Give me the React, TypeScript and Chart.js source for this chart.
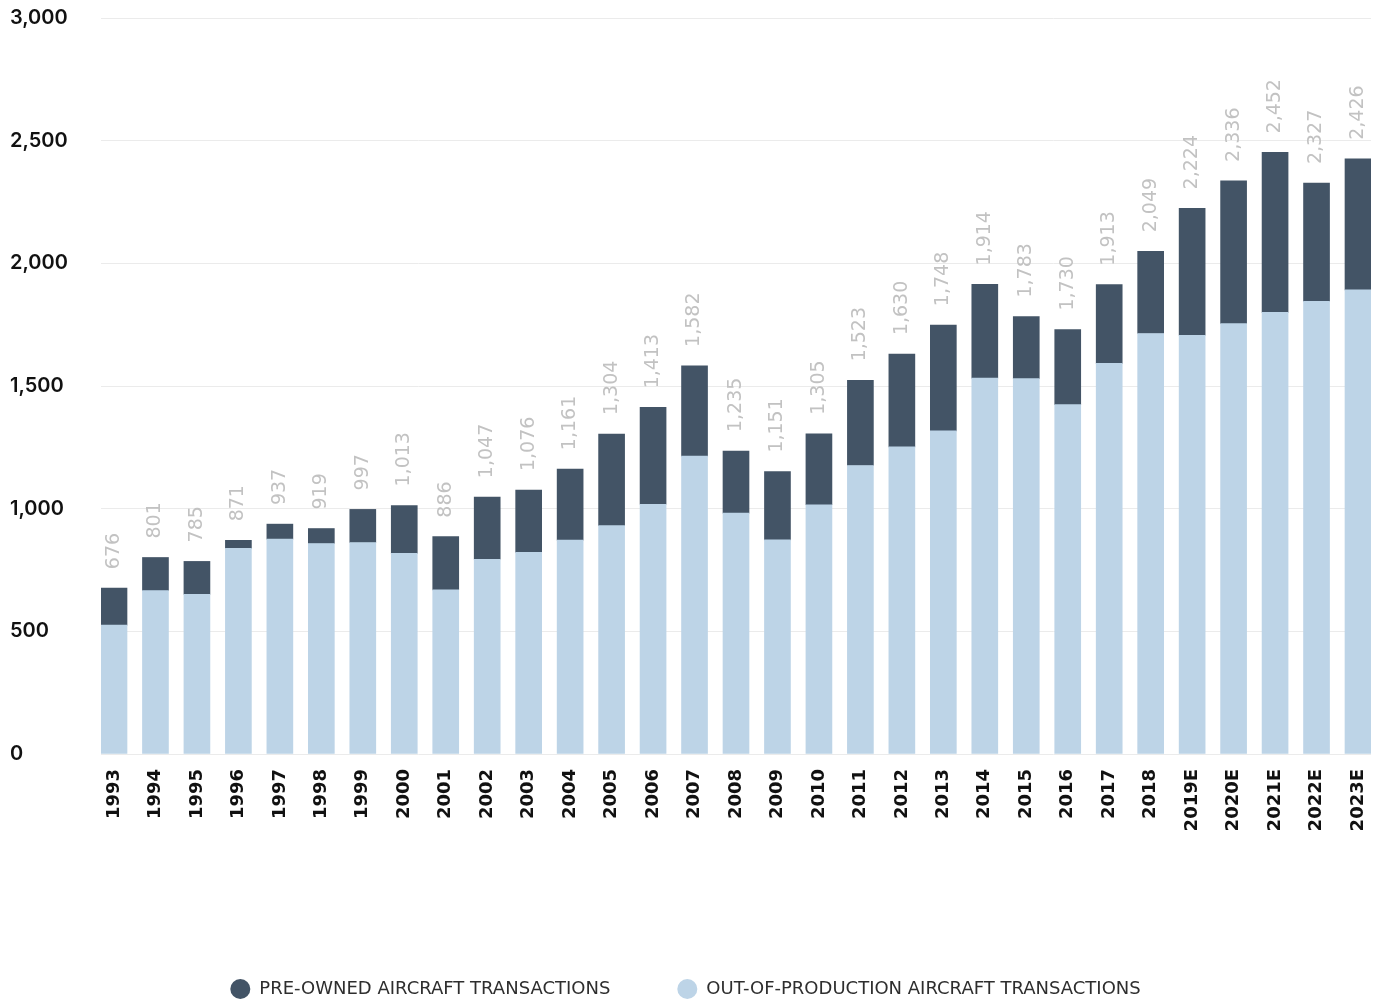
import React, { useEffect, useRef } from "react";
import { Chart, registerables } from "chart.js";

Chart.register(...registerables);

// Business aviation transactions per year (E = estimate)
const years = [
  "1993", "1994", "1995", "1996", "1997", "1998", "1999", "2000", "2001", "2002",
  "2003", "2004", "2005", "2006", "2007", "2008", "2009", "2010", "2011", "2012",
  "2013", "2014", "2015", "2016", "2017", "2018", "2019E", "2020E", "2021E", "2022E",
  "2023E",
];

const outOfProduction = [
  525, 666, 651, 838, 876, 858, 862, 818, 669, 794,
  822, 872, 931, 1018, 1214, 982, 873, 1016, 1176, 1252,
  1317, 1532, 1530, 1424, 1592, 1714, 1707, 1754, 1800, 1845,
  1892,
];

const preOwned = [
  151, 135, 134, 33, 61, 61, 135, 195, 217, 253,
  254, 289, 373, 395, 368, 253, 278, 289, 347, 378,
  431, 382, 253, 306, 321, 335, 517, 582, 652, 482,
  534,
];

const yMax = 3000;
const yStep = 500;

const seriesNames = ["OUT-OF-PRODUCTION AIRCRAFT TRANSACTIONS", "PRE-OWNED AIRCRAFT TRANSACTIONS"];

const DARK = "#435466";
const LIGHT = "#bdd4e7";
const LABEL_GRAY = "#c2c2c2";
const GRID = "#ebebeb";

// Half a bar of breathing room at each end of the index axis
const edge = 0.3135;

const totalsPlugin = {
  id: "stackTotals",
  afterDatasetsDraw(chart: any) {
    const meta = chart.getDatasetMeta(1);
    const ctx = chart.ctx;
    ctx.save();
    ctx.font = '19px "DejaVu Sans"';
    ctx.fillStyle = LABEL_GRAY;
    ctx.textAlign = "left";
    ctx.textBaseline = "middle";
    meta.data.forEach((bar: any, i: number) => {
      const total = outOfProduction[i] + preOwned[i];
      ctx.save();
      ctx.translate(bar.x, bar.y - 19);
      ctx.rotate(-Math.PI / 2);
      ctx.fillText(total.toLocaleString("en-US"), 0, 0);
      ctx.restore();
    });
    ctx.restore();
  },
};

// Nudge the legend row a little to the left of the canvas centre
const legendShiftPlugin = {
  id: "legendShift",
  afterLayout(chart: any) {
    if (chart.legend) {
      chart.legend.left -= 5;
      chart.legend.right -= 5;
    }
  },
};

export default function App() {
  const canvasRef = useRef<HTMLCanvasElement | null>(null);

  useEffect(() => {
    const canvas = canvasRef.current;
    if (!canvas) return;
    const toPoints = (arr: number[]) => arr.map((v, i) => ({ x: i, y: v }));

    const chart = new Chart(canvas, {
      type: "bar",
      data: {
        datasets: [
          {
            label: seriesNames[0],
            data: toPoints(outOfProduction) as any,
            backgroundColor: LIGHT,
            borderWidth: 0,
            barThickness: 26,
          },
          {
            label: seriesNames[1],
            data: toPoints(preOwned) as any,
            backgroundColor: DARK,
            borderWidth: 0,
            barThickness: 26,
          },
        ],
      },
      plugins: [totalsPlugin, legendShiftPlugin],
      options: {
        responsive: false,
        animation: false,
        devicePixelRatio: 1,
        events: [],
        layout: { padding: { left: 10, right: 13, top: 18, bottom: -8 } },
        plugins: {
          tooltip: { enabled: false },
          legend: {
            position: "bottom",
            reverse: true,
            labels: {
              usePointStyle: true,
              pointStyle: "circle",
              boxHeight: 14,
              pointStyleWidth: 20,
              padding: 67,
              color: "#2e2e2e",
              font: { family: "DejaVu Sans", size: 18 },
            },
          },
        },
        scales: {
          x: {
            type: "linear",
            stacked: true,
            offset: false,
            min: -edge,
            max: years.length - 1 + edge,
            grid: { display: false },
            border: { display: false },
            afterBuildTicks: (scale: any) => {
              scale.ticks = years.map((_, i) => ({ value: i }));
            },
            afterFit: (scale: any) => {
              scale.height = 159;
              scale.paddingLeft = 0;
              scale.paddingRight = 0;
            },
            ticks: {
              autoSkip: false,
              maxRotation: 90,
              minRotation: 90,
              padding: 7,
              color: "#111111",
              font: { family: "DejaVu Sans", size: 18, weight: "bold" },
              callback: (v: any) => years[v] ?? "",
            },
          },
          y: {
            stacked: true,
            min: 0,
            max: yMax,
            grid: { color: GRID, lineWidth: 1, drawTicks: false },
            border: { display: false },
            afterFit: (scale: any) => {
              scale.width = 91;
            },
            ticks: {
              stepSize: yStep,
              crossAlign: "far",
              padding: 0,
              color: "#111111",
              font: { family: "Inter", size: 20, weight: "600" },
              callback: (v: any) => Number(v).toLocaleString("en-US"),
            },
          },
        },
      },
    });

    return () => chart.destroy();
  }, []);

  return (
    <div style={{ position: "fixed", left: 0, top: 0, width: 1384, height: 1000, background: "#ffffff" }}>
      <canvas ref={canvasRef} width={1384} height={1000} />
    </div>
  );
}
